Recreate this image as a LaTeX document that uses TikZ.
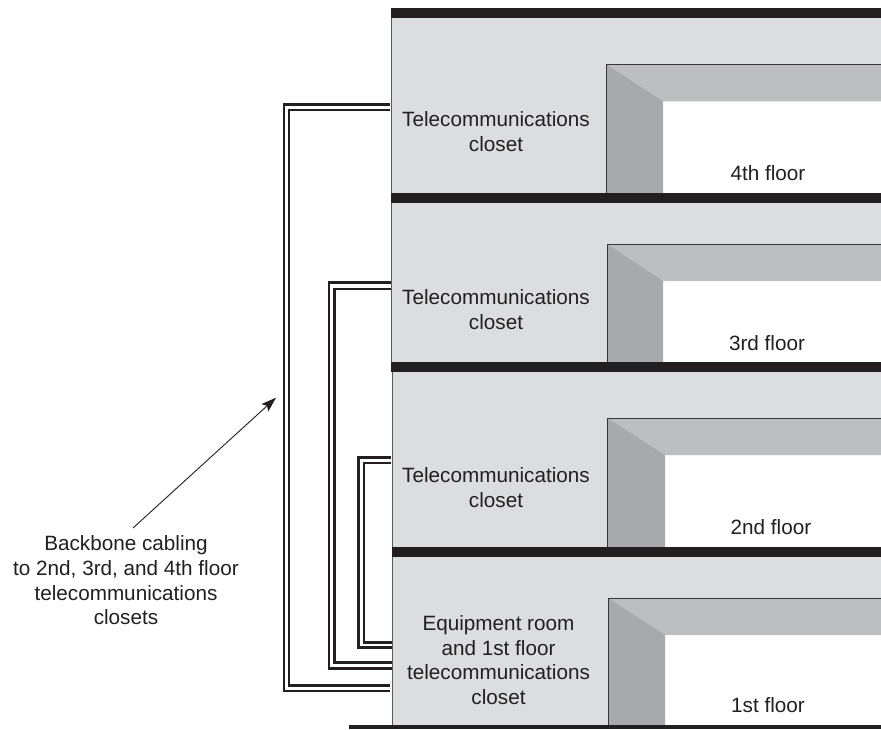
\documentclass[tikz,border=0pt]{standalone}
\usepackage{fontspec}
\setmainfont{Liberation Sans}
\usetikzlibrary{arrows.meta}
\definecolor{ink}{HTML}{231F20}
\definecolor{wall}{HTML}{DCDDDE}
\definecolor{lintel}{HTML}{BCBEC0}
\definecolor{jamb}{HTML}{A7A9AC}
\newcommand{\floorshape}[6]{% left, top, bottom, door x, door top, inner corner x; inner y = door top + 37
  \fill[wall] (#1,#2) rectangle (881,#3);
  \draw[walledge] (#1,#3) -- (#1,#2);
  \fill[white] (#6,#5+37) rectangle (881,#3);
  \fill[lintel] (#4,#5) -- (881,#5) -- (881,#5+37) -- (#6,#5+37) -- cycle;
  \fill[jamb] (#4,#5) -- (#6,#5+37) -- (#6,#3) -- (#4,#3) -- cycle;
  \draw[dooredge] (#4,#3) -- (#4,#5) -- (881,#5);
}
\tikzset{
  x=1pt,y=-1pt,
  walledge/.style={draw=black!65,line width=1pt},
  dooredge/.style={draw=ink!90,line width=1pt},
  slab/.style={fill=ink},
  cable/.style={draw=ink,line width=2.6pt,miter limit=10},
  heavycable/.style={draw=ink,line width=3.3pt,miter limit=10},
  label/.style={text=ink,font=\fontsize{20.7}{24.7}\selectfont,align=center,inner sep=0pt,outer sep=0pt},
  pointer/.style={draw=ink,line width=0.9pt,-{Stealth[length=15pt,width=10pt,inset=3pt]}}
}
\begin{document}
\begin{tikzpicture}
\useasboundingbox (0,0) rectangle (881,729);
\fill[white] (0,0) rectangle (881,729);
% floors
\floorshape{391}{18}{193}{606.3}{64.3}{663}
\floorshape{391}{203}{362}{607}{244}{663}
\floorshape{392.5}{372}{547}{607.5}{418}{665}
\floorshape{392.5}{557}{725}{608.3}{598}{665}
% slabs
\fill[slab] (391,8) rectangle (881,18);
\fill[slab] (391,192.5) rectangle (881,202.7);
\fill[slab] (391,362) rectangle (881,372);
\fill[slab] (392,546.7) rectangle (881,556.7);
\fill[slab] (349,725) rectangle (881,729);
% text
\node[label] (c4) at (496,131.5) {Telecommunications\\closet};
\node[label] (c3) at (496,309.5) {Telecommunications\\closet};
\node[label] (c2) at (496,487.5) {Telecommunications\\closet};
\node[label] (c1) at (498.5,660) {Equipment room\\and 1st floor\\telecommunications\\closet};
\node[label,anchor=base] (f4) at (768,180) {4th floor};
\node[label,anchor=base] (f3) at (767,350) {3rd floor};
\node[label,anchor=base] (f2) at (771,534) {2nd floor};
\node[label,anchor=base] (f1) at (768,712) {1st floor};
\node[label] (bb) at (126,580.5) {Backbone cabling\\to 2nd, 3rd, and 4th floor\hspace*{5pt}\\telecommunications\\closets};
% cable end points
\coordinate (a1) at (390,104.5); \coordinate (a2) at (390,110);
\coordinate (b1) at (390,691);   \coordinate (b2) at (390,685.5);
\draw[cable] (a1) -- (284,104.5) -- (284,691) -- (b1);
\draw[cable] (a2) -- (289,110) -- (289,685.5) -- (b2);
\coordinate (d1) at (391,282.5); \coordinate (d2) at (391,289);
\coordinate (e1) at (392,668.5); \coordinate (e2) at (392,662.5);
\draw[cable] (d1) -- (329,282.5) -- (329,668.5) -- (e1);
\draw[cable] (d2) -- (334.5,289) -- (334.5,662.5) -- (e2);
\coordinate (g1) at (391,457.2); \coordinate (g2) at (391,463);
\coordinate (h1) at (392,647.7); \coordinate (h2) at (392,642.7);
\draw[heavycable] (g1) -- (358.8,457.2) -- (358.8,647.7) -- (h1);
\draw[cable] (g2) -- (363.8,463) -- (363.8,642.7) -- (h2);
% pointer
\coordinate (ptail) at (133,528);
\coordinate (phead) at (276,397.7);
\draw[pointer] (ptail) -- (phead);
\end{tikzpicture}
\end{document}
